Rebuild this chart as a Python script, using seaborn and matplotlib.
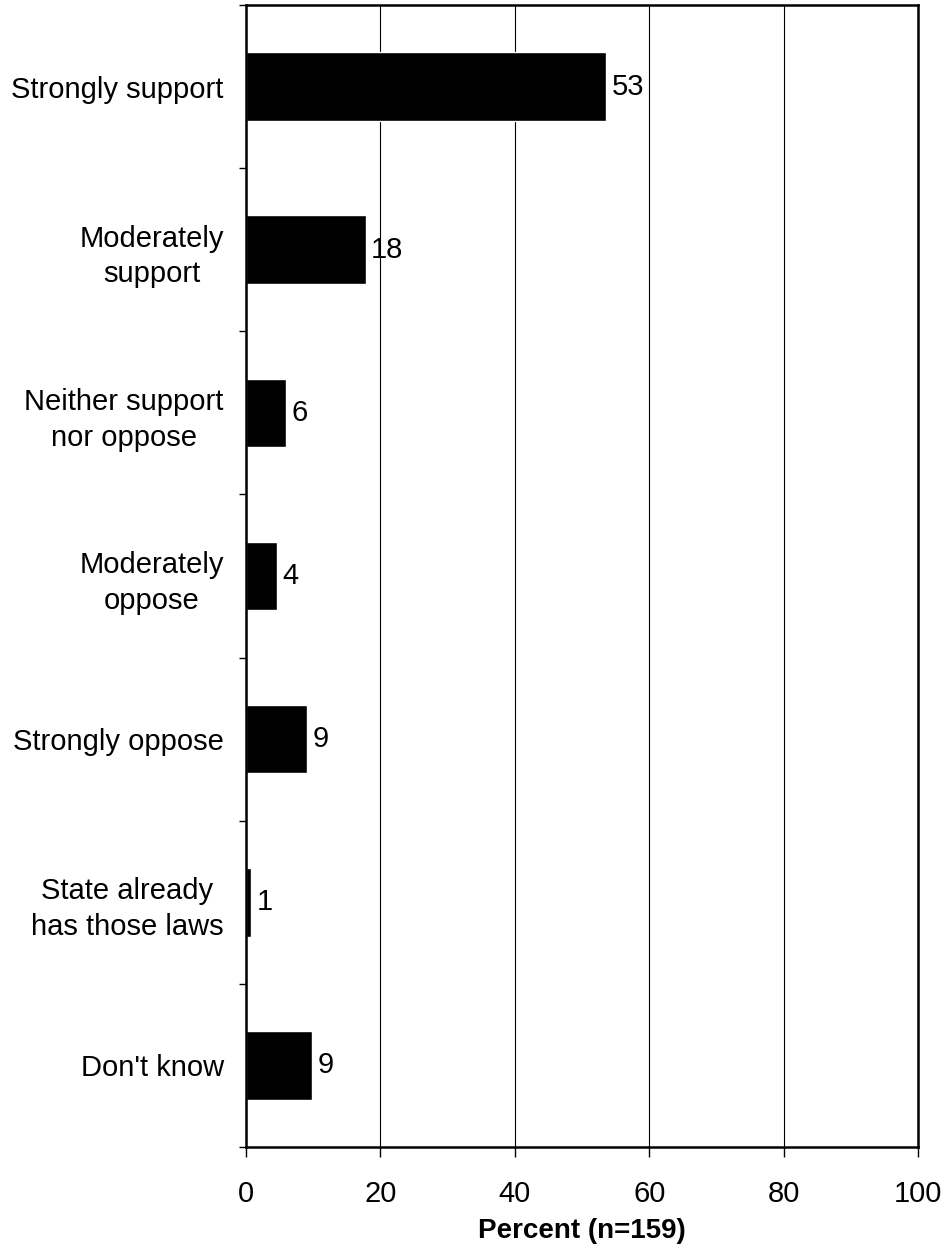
import seaborn as sns
import matplotlib.pyplot as plt
import pandas as pd
from matplotlib.ticker import FixedLocator

categories = ['Strongly support', 'Moderately\nsupport', 'Neither support\nnor oppose',
              'Moderately\noppose', 'Strongly oppose', 'State already\nhas those laws',
              "Don't know"]
percent = [53.6, 17.8, 6.0, 4.6, 9.1, 0.8, 9.8]
value_labels = ['53', '18', '6', '4', '9', '1', '9']
xticks = [0, 20, 40, 60, 80, 100]

df = pd.DataFrame({'category': categories, 'percent': percent})

sns.set_style('white')
plt.rcParams['font.family'] = ['Liberation Sans', 'DejaVu Sans']
plt.rcParams['text.color'] = 'black'
plt.rcParams['xtick.color'] = 'black'
plt.rcParams['ytick.color'] = 'black'
plt.rcParams['axes.labelcolor'] = 'black'

fig = plt.figure(figsize=(9.48, 12.59), dpi=100)
ax = fig.add_axes([0.2595, 0.089, 0.709, 0.907])

sns.barplot(data=df, x='percent', y='category', orient='h', color='black',
            width=0.42, ax=ax, saturation=1)

ax.bar_label(ax.containers[0], labels=value_labels, padding=4, fontsize=21, color='black')

ax.set_xlim(0, 100)
ax.set_ylim(len(categories) - 0.5, -0.5)
ax.set_xticks(xticks)
ax.set_xticklabels([str(t) for t in xticks])
ax.grid(axis='x', color='black', linewidth=0.8)
ax.grid(axis='y', visible=False)
ax.set_axisbelow(True)

for s in ax.spines.values():
    s.set_color('black')
    s.set_linewidth(1.8)

ax.tick_params(axis='y', which='major', length=0, pad=16, labelsize=21)
ax.yaxis.set_minor_locator(FixedLocator([i - 0.5 for i in range(len(categories) + 1)]))
ax.tick_params(axis='y', which='minor', length=5, width=1, color='black', direction='out', left=True)
ax.tick_params(axis='x', which='major', length=7, width=1, color='black', direction='out',
               bottom=True, pad=17, labelsize=21)
for lbl in ax.get_yticklabels():
    lbl.set_multialignment('center')
    lbl.set_linespacing(1.35)

ax.set_ylabel(None)
ax.set_xlabel('Percent (n=159)', fontsize=20, fontweight='bold', labelpad=7)

fig.savefig('out.png', dpi=100)
